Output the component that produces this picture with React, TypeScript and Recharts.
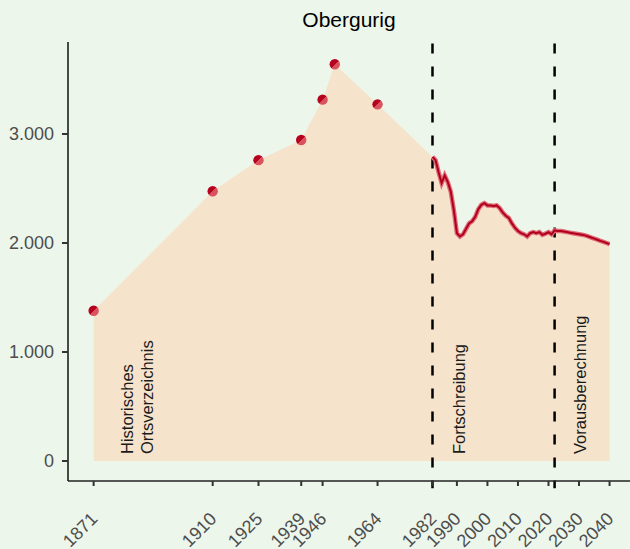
import React from "react";
import {
  ComposedChart,
  Area,
  Line,
  XAxis,
  YAxis,
  ReferenceLine,
} from "recharts";

// Historisches Ortsverzeichnis (census points)
const histYears = [1871, 1910, 1925, 1939, 1946, 1950, 1964];
const histValues = [1378, 2475, 2760, 2945, 3315, 3640, 3272];

// Fortschreibung + Vorausberechnung (yearly)
const fortYears = [
  1982, 1983, 1984, 1985, 1986, 1987, 1988, 1989, 1990, 1991,
  1992, 1993, 1994, 1995, 1996, 1997, 1998, 1999, 2000, 2001,
  2002, 2003, 2004, 2005, 2006, 2007, 2008, 2009, 2010, 2011,
  2012, 2013, 2014, 2015, 2016, 2017, 2018, 2019, 2020, 2021,
  2022, 2023, 2024, 2025, 2026, 2027, 2028, 2029, 2030, 2031,
  2032, 2033, 2034, 2035, 2036, 2037, 2038, 2039, 2040,
];
const fortValues = [
  2790, 2760, 2650, 2550, 2620, 2560, 2470, 2300, 2090, 2060,
  2080, 2130, 2180, 2200, 2240, 2310, 2350, 2365, 2345, 2345,
  2340, 2345, 2320, 2280, 2250, 2230, 2180, 2140, 2110, 2090,
  2080, 2060, 2090, 2100, 2090, 2100, 2075, 2085, 2100, 2080,
  2115, 2110, 2110, 2105, 2100, 2095, 2090, 2085, 2080, 2075,
  2070, 2060, 2050, 2040, 2030, 2020, 2010, 2000, 1990,
];

const xTicks = [1871, 1910, 1925, 1939, 1946, 1964, 1982, 1990, 2000, 2010, 2020, 2030, 2040];
const yTicks = [0, 1000, 2000, 3000];

const data = [
  ...histYears.map((year, i) => ({ year, total: histValues[i], hist: histValues[i], fort: null as number | null })),
  ...fortYears.map((year, i) => ({ year, total: fortValues[i], hist: null as number | null, fort: fortValues[i] })),
];

const FONT = "'Liberation Sans', Arial, sans-serif";
const BG = "#ecf6eb";

const formatY = (v: number) => (v === 0 ? "0" : `${v / 1000}.000`);

const XTick = (props: any) => {
  const { x, y, payload } = props;
  const ax = x + 5;
  const ay = y + 32;
  return (
    <text
      x={ax}
      y={ay}
      transform={`rotate(-45 ${ax} ${ay})`}
      textAnchor="end"
      fontSize={18}
      fontFamily={FONT}
      fill="#4d4d4d"
    >
      {payload.value}
    </text>
  );
};

const HistDot = (props: any) => {
  const { cx, cy, index } = props;
  if (cx == null || cy == null || props.value == null) return <g key={index} />;
  return (
    <g key={index}>
      <defs>
        <linearGradient id="dotGrad" x1="0" y1="0" x2="1" y2="1">
          <stop offset="0.5" stopColor="#b5001e" />
          <stop offset="0.5" stopColor="#d9535f" />
        </linearGradient>
      </defs>
      <circle cx={cx} cy={cy} r={5.2} fill="url(#dotGrad)" />
    </g>
  );
};

const sectionLabel = (lines: string[], dx: number) => (props: any) => {
  const { viewBox } = props;
  const y0 = viewBox.y + viewBox.height - 27;
  return (
    <g>
      {lines.map((t, i) => {
        const x0 = viewBox.x + dx + i * 20;
        return (
          <text
            key={t}
            x={x0}
            y={y0}
            transform={`rotate(-90 ${x0} ${y0})`}
            fontSize={16.5}
            fontFamily={FONT}
            fill="#1a1a1a"
          >
            {t}
          </text>
        );
      })}
    </g>
  );
};

export default function App() {
  return (
    <div style={{ position: "relative", width: 630, height: 549, background: BG, overflow: "hidden" }}>
      <style>{`body{margin:0}`}</style>
      <div
        style={{
          position: "absolute",
          top: 8,
          left: 68,
          width: 562,
          textAlign: "center",
          fontFamily: FONT,
          fontSize: 21,
          lineHeight: "24px",
          color: "#000",
        }}
      >
        Obergurig
      </div>
      <ComposedChart
        width={630}
        height={549}
        data={data}
        margin={{ top: 42, right: 0, bottom: 0, left: 0 }}
      >
        <XAxis
          dataKey="year"
          type="number"
          domain={[1862.6, 2046.7]}
          allowDataOverflow
          ticks={xTicks}
          interval={0}
          height={68}
          tickSize={5}
          tickMargin={2}
          tick={<XTick />}
          axisLine={{ stroke: "#222", strokeWidth: 1.5 }}
          tickLine={{ stroke: "#333", strokeWidth: 2 }}
        />
        <YAxis
          type="number"
          domain={[-183.5, 3844]}
          allowDataOverflow
          ticks={yTicks}
          width={68}
          tickSize={6}
          tickMargin={8}
          tickFormatter={formatY}
          tick={{ fontSize: 18, fontFamily: FONT, fill: "#4d4d4d" }}
          axisLine={{ stroke: "#111", strokeWidth: 1.5 }}
          tickLine={{ stroke: "#333", strokeWidth: 2 }}
        />
        <Area
          type="linear"
          dataKey="total"
          stroke="none"
          fill="#f5e3cc"
          fillOpacity={1}
          baseValue={0}
          isAnimationActive={false}
        />
        <ReferenceLine
          x={1871}
          strokeOpacity={0}
          label={sectionLabel(["Historisches", "Ortsverzeichnis"], 39.5)}
        />
        <ReferenceLine
          segment={[{ x: 1982, y: 3830 }, { x: 1982, y: -250 }]}
          ifOverflow="visible"
          stroke="#000"
          strokeWidth={2.5}
          strokeDasharray="10 13"
        />
        <ReferenceLine
          x={1982}
          strokeOpacity={0}
          label={sectionLabel(["Fortschreibung"], 32.5)}
        />
        <ReferenceLine
          segment={[{ x: 2022, y: 3830 }, { x: 2022, y: -250 }]}
          ifOverflow="visible"
          stroke="#000"
          strokeWidth={2.5}
          strokeDasharray="10 13"
        />
        <ReferenceLine
          x={2022}
          strokeOpacity={0}
          label={sectionLabel(["Vorausberechnung"], 31)}
        />
        <Line
          type="linear"
          dataKey="fort"
          stroke="#df6b78"
          strokeWidth={4.5}
          dot={false}
          activeDot={false}
          isAnimationActive={false}
        />
        <Line
          type="linear"
          dataKey="fort"
          stroke="#b0001c"
          strokeWidth={2}
          dot={false}
          activeDot={false}
          isAnimationActive={false}
        />
        <Line
          type="linear"
          dataKey="hist"
          stroke="none"
          dot={<HistDot />}
          activeDot={false}
          isAnimationActive={false}
        />
      </ComposedChart>
    </div>
  );
}
